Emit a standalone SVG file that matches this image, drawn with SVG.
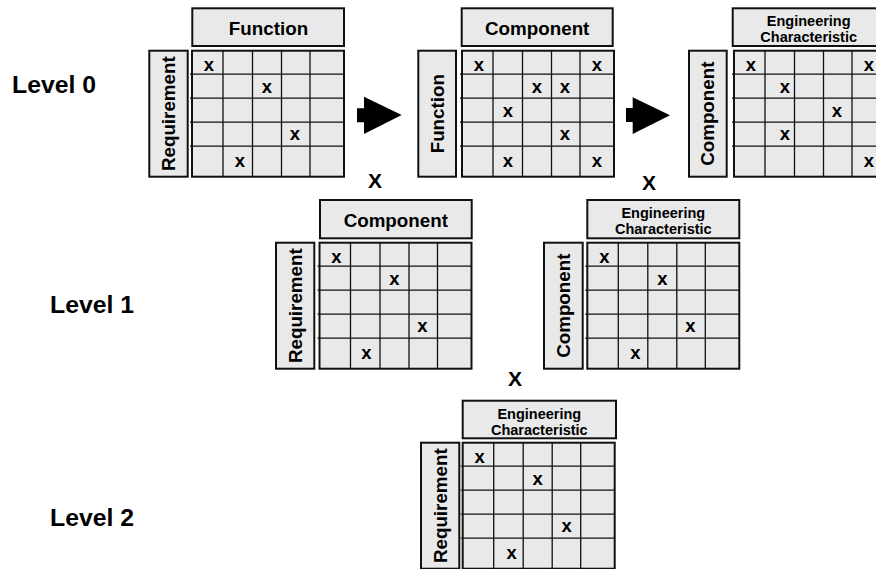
<svg xmlns="http://www.w3.org/2000/svg" xmlns:xlink="http://www.w3.org/1999/xlink" width="876" height="569" viewBox="0 0 876 569">
<style>
text{font-family:"Liberation Sans",Arial,Helvetica,sans-serif;font-weight:bold;fill:#000}
.box{fill:#e9e9e9;stroke:#111;stroke-width:2}
.cell{fill:#e9e9e9;stroke:#111;stroke-width:2}
.ln{fill:none;stroke:#111;stroke-width:1.3}
.hd{font-size:18.8px;text-anchor:middle}
.hd2{font-size:14.5px;text-anchor:middle}
.side{font-size:18.8px;text-anchor:middle}
.mk{font-size:18.5px;text-anchor:middle}
.lvl{font-size:24.8px}
.op{font-size:21px;text-anchor:middle}
.arw{fill:#000;stroke:none}
</style>
<defs>
<g id="grid">
<rect x="0" y="0" width="152" height="126" class="cell"/>
<path class="ln" d="M31 0V126M60.5 0V126M89.5 0V126M118 0V126M-2 23.5H152M-2 47.5H152M-2 71.5H152M-2 95.5H152"/>
</g>
</defs>
<rect width="876" height="569" fill="#fff"/>

<g id="levels">
<text class="lvl" x="12" y="93.3">Level 0</text>
<text class="lvl" x="50" y="313.3">Level 1</text>
<text class="lvl" x="50" y="526">Level 2</text>
</g>

<g id="m-req-func">
<rect class="box" x="192.3" y="8.3" width="151.7" height="37.7"/>
<text class="hd" x="268.5" y="35">Function</text>
<rect class="box" x="149.3" y="50.7" width="38.4" height="126"/>
<text class="side" transform="translate(175 113.7) rotate(-90)">Requirement</text>
<g transform="translate(192 50.7)">
<use xlink:href="#grid"/>
<text class="mk" x="17" y="20">x</text>
<text class="mk" x="75" y="42">x</text>
<text class="mk" x="103" y="89.5">x</text>
<text class="mk" x="48" y="116">x</text>
</g>
</g>

<g id="m-func-comp">
<rect class="box" x="461.7" y="8.3" width="151" height="37.7"/>
<text class="hd" x="537.2" y="35">Component</text>
<rect class="box" x="418.3" y="50.7" width="37.7" height="126"/>
<text class="side" transform="translate(443.7 113.7) rotate(-90)">Function</text>
<g transform="translate(462 50.7)">
<use xlink:href="#grid"/>
<text class="mk" x="17" y="20">x</text>
<text class="mk" x="135" y="20">x</text>
<text class="mk" x="75" y="42">x</text>
<text class="mk" x="103" y="42">x</text>
<text class="mk" x="46" y="66">x</text>
<text class="mk" x="103" y="89.5">x</text>
<text class="mk" x="46" y="116">x</text>
<text class="mk" x="135" y="116">x</text>
</g>
</g>

<g id="m-comp-ec">
<rect class="box" x="732.7" y="8.3" width="152" height="37.7"/>
<text class="hd2" x="808.7" y="25.5">Engineering</text>
<text class="hd2" x="808.7" y="41.5">Characteristic</text>
<rect class="box" x="689" y="50.7" width="37.7" height="126"/>
<text class="side" transform="translate(714.3 113.7) rotate(-90)">Component</text>
<g transform="translate(734 50.7)">
<use xlink:href="#grid"/>
<text class="mk" x="17" y="20">x</text>
<text class="mk" x="135" y="20">x</text>
<text class="mk" x="51" y="42">x</text>
<text class="mk" x="103" y="66">x</text>
<text class="mk" x="51" y="89.5">x</text>
<text class="mk" x="135" y="116">x</text>
</g>
</g>

<g id="m1-req-comp">
<rect class="box" x="320" y="200" width="151.7" height="38.3"/>
<text class="hd" x="395.8" y="227">Component</text>
<rect class="box" x="276" y="242.7" width="38.3" height="126"/>
<text class="side" transform="translate(301.7 305.7) rotate(-90)">Requirement</text>
<g transform="translate(319.5 242.7)">
<use xlink:href="#grid"/>
<text class="mk" x="17" y="20">x</text>
<text class="mk" x="75" y="42">x</text>
<text class="mk" x="103" y="89.5">x</text>
<text class="mk" x="47" y="116">x</text>
</g>
</g>

<g id="m1-comp-ec">
<rect class="box" x="587.3" y="200" width="152" height="38.3"/>
<text class="hd2" x="663.3" y="218">Engineering</text>
<text class="hd2" x="663.3" y="234">Characteristic</text>
<rect class="box" x="544" y="242.7" width="38.7" height="126"/>
<text class="side" transform="translate(569.8 305.7) rotate(-90)">Component</text>
<g transform="translate(587.3 242.7)">
<use xlink:href="#grid"/>
<text class="mk" x="17" y="20">x</text>
<text class="mk" x="75" y="42">x</text>
<text class="mk" x="103" y="89.5">x</text>
<text class="mk" x="48" y="116">x</text>
</g>
</g>

<g id="m2-req-ec">
<rect class="box" x="462.7" y="400.7" width="153.3" height="37.6"/>
<text class="hd2" x="539.3" y="418.5">Engineering</text>
<text class="hd2" x="539.3" y="434.5">Characteristic</text>
<rect class="box" x="421" y="442.7" width="38.3" height="126"/>
<text class="side" transform="translate(446.7 505.7) rotate(-90)">Requirement</text>
<g transform="translate(462.7 442.7)">
<use xlink:href="#grid"/>
<text class="mk" x="17" y="20">x</text>
<text class="mk" x="75" y="42">x</text>
<text class="mk" x="104" y="89.5">x</text>
<text class="mk" x="49" y="116">x</text>
</g>
</g>

<g id="connectors">
<polygon class="arw" points="357,108.3 364,108.3 364,96.7 401.7,115 364,134 364,122.3 357,122.3"/>
<polygon class="arw" points="626,108 632.7,108 632.7,97.3 670,115.3 632.7,134 632.7,122 626,122"/>
</g>

<g id="operators">
<text class="op" x="375" y="188.3">X</text>
<text class="op" x="649" y="190">X</text>
<text class="op" x="515" y="385.7">X</text>
</g>
</svg>
